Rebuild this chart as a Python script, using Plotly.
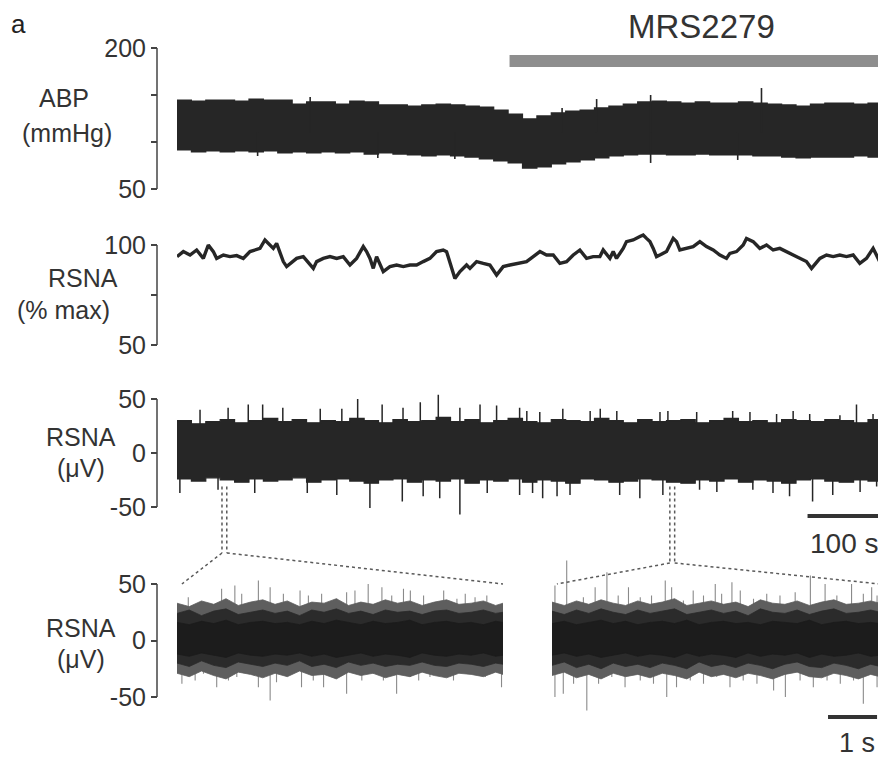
import plotly.graph_objects as go

# page is offset by the browser's default 8 px body margin
OFF = 8
W, H = 886 - OFF, 757 - OFF

# ---------------- data ----------------
# ABP envelope (mmHg), sampled every 20 s
abp_t = list(range(0, 1000, 20))
abp_sys = [144.7, 143.6, 144.7, 144.7, 143.6, 145.7, 144.7, 144.7, 140.4, 142.6,
           142.6, 140.4, 143.6, 142.6, 139.4, 139.4, 138.3, 139.4, 140.4, 139.4,
           138.3, 137.2, 134.0, 129.8, 124.5, 127.7, 130.9, 133.0, 134.0, 136.2,
           138.3, 140.4, 142.6, 143.6, 142.6, 141.5, 142.6, 141.5, 141.5, 142.6,
           141.5, 140.4, 139.4, 138.3, 140.4, 141.5, 141.5, 140.4, 141.5, 138.3]
abp_dia = [91.5, 89.4, 90.4, 89.4, 90.4, 89.4, 90.4, 88.3, 89.4, 88.3,
           89.4, 88.3, 89.4, 87.2, 88.3, 87.2, 86.2, 85.1, 86.2, 85.1,
           84.0, 81.9, 79.8, 77.7, 72.3, 73.4, 76.6, 78.7, 80.9, 83.0,
           85.1, 86.2, 87.2, 87.2, 86.2, 86.2, 87.2, 86.2, 86.2, 86.2,
           85.1, 85.1, 84.0, 83.0, 84.0, 84.0, 84.0, 85.1, 84.0, 84.0]
abp_spike_t = [185, 535, 583, 658, 812]
abp_spike_v = [147.9, 136.2, 145.7, 150.0, 157.4]
abp_notch_t = [112, 279, 386, 658, 779]
abp_notch_v = [85.1, 83.0, 81.9, 77.7, 80.9]

# integrated RSNA (% max)
rsna_pct_t = [0, 8.8, 18.1, 27.3, 36.6, 43.5, 50.5, 55.1, 64.4, 73.6,
              82.9, 92.1, 101.4, 110.6, 115.3, 122.2, 129.2, 133.8, 138.4, 143.1,
              147.7, 152.3, 161.6, 166.2, 175.5, 184.7, 189.4, 194.0, 203.2, 212.5,
              221.8, 231.0, 240.3, 249.5, 258.8, 263.4, 268.1, 272.7, 277.3, 286.6,
              295.8, 305.1, 314.4, 323.6, 332.9, 342.1, 351.4, 360.6, 369.9, 374.5,
              379.2, 386.1, 393.1, 402.3, 407.0, 416.2, 425.5, 434.7, 444.0, 453.2,
              462.5, 471.8,
              476.4, 485.6, 494.9, 504.2, 513.4, 522.7, 531.9, 541.2, 550.5, 559.7,
              569.0, 578.2, 587.5, 592.1, 601.4, 606.0, 610.6, 619.9, 624.5, 633.8,
              643.1, 647.7, 652.3, 657.0, 661.6, 666.2, 670.8, 680.1, 689.4, 694.0,
              698.6, 707.9, 717.1, 726.4, 735.6, 744.9, 754.2, 763.4, 768.1, 777.3,
              786.6, 791.2, 800.5, 805.1, 809.7, 819.0, 828.2, 837.5, 846.8, 856.0,
              865.3, 874.5, 881.5, 888.4, 893.1, 902.3, 911.6, 920.8, 930.1, 939.4,
              948.6, 957.9, 967.1, 974.1, 978.7]
rsna_pct = [94.2, 96.7, 95.0, 97.5, 93.3, 100.0, 96.7, 93.3, 95.0, 94.2,
            94.7, 93.3, 96.7, 97.5, 98.3, 102.5, 100.0, 98.3, 100.8, 96.7,
            91.7, 89.2, 91.7, 93.3, 94.2, 90.0, 88.3, 91.7, 93.3, 94.2,
            93.3, 94.2, 90.0, 93.3, 99.2, 96.7, 93.3, 88.3, 94.2, 86.7,
            89.2, 90.0, 89.2, 90.0, 90.0, 91.7, 93.3, 96.7, 97.5, 96.7,
            91.7, 83.3, 86.7, 90.0, 88.3, 91.7, 90.8, 90.0, 85.0, 89.2,
            90.0, 90.8,
            90.8, 91.7, 94.2, 96.7, 95.0, 95.0, 90.8, 91.7, 95.0, 97.5,
            93.3, 94.2, 94.2, 97.5, 93.3, 96.7, 93.3, 98.3, 101.7, 102.5,
            104.2, 105.0, 103.3, 101.7, 98.3, 94.2, 95.0, 96.7, 103.3, 101.7,
            97.5, 98.3, 99.2, 101.7, 99.2, 97.5, 95.0, 93.3, 95.8, 96.7,
            100.0, 103.3, 101.7, 100.0, 98.3, 100.0, 97.5, 98.3, 96.7, 95.0,
            93.3, 91.7, 88.3, 91.7, 93.3, 95.0, 94.2, 95.0, 94.2, 95.0,
            90.8, 93.3, 98.3, 93.3, 90.0]

# raw RSNA (uV): envelope every 20 s + large deflections
raw_t = list(range(0, 1000, 20))
raw_up = [30, 27, 29, 31, 28, 30, 32, 29, 31, 28, 30, 29, 32, 30, 28, 31, 29, 30, 33, 29,
          31, 28, 30, 32, 29, 28, 31, 30, 29, 32, 30, 28, 31, 29, 30, 31, 28, 30, 32, 29,
          30, 28, 31, 30, 29, 31, 30, 28, 31, 30]
raw_lo = [-24, -26, -23, -25, -27, -24, -26, -25, -23, -27, -25, -24, -26, -28, -25, -24,
          -27, -25, -26, -24, -28, -25, -26, -24, -27, -25, -26, -28, -24, -25, -27, -26,
          -24, -25, -27, -28, -25, -26, -24, -27, -25, -26, -28, -25, -24, -26, -27, -25,
          -26, -25]
raw_pk_up_t = [32, 71, 99, 119, 147, 199, 229, 251, 285, 314, 338, 363, 393, 421, 444, 476,
               486, 504, 536, 574, 588, 611, 671, 682, 722, 772, 796, 833, 856, 879, 921, 944, 967]
raw_pk_up_v = [40, 42, 45, 45, 42, 41, 41, 50, 45, 42, 47, 54, 42, 45, 44, 42,
               39, 38, 41, 39, 41, 39, 38, 39, 38, 39, 38, 36, 39, 36, 35, 45, 36]
raw_pk_dn_t = [4, 57, 108, 181, 222, 268, 313, 342, 365, 393, 431, 476,
               494, 508, 528, 546, 615, 643, 675, 726, 750, 800, 828, 851, 883, 911, 949, 972]
raw_pk_dn_v = [-37, -34, -37, -37, -39, -51, -45, -40, -42, -57, -37, -39,
               -37, -42, -40, -39, -39, -42, -39, -34, -36, -34, -37, -40, -45, -39, -36, -31]

# expanded windows (s) on the raw RSNA record
win_start = [62.5, 684.7]
win_len = [6.65, 6.69]

# expanded raw RSNA, left window
zl_t = [0, 0.25, 0.5, 0.75, 1, 1.25, 1.5, 1.75, 2, 2.25, 2.5, 2.75, 3, 3.25,
        3.5, 3.75, 4, 4.25, 4.5, 4.75, 5, 5.25, 5.5, 5.75, 6, 6.25, 6.5, 6.65]
zl_fr_up = [33, 30, 35, 32, 37, 31, 34, 36, 32, 35, 30, 34, 33, 37, 31, 34, 32, 36, 33, 35,
            31, 34, 36, 32, 33, 35, 31, 33]
zl_fr_lo = [-29, -32, -27, -31, -34, -28, -30, -33, -29, -32, -27, -31, -30, -34, -28, -31,
            -29, -33, -30, -32, -28, -31, -33, -29, -30, -32, -28, -30]
zl_out_up = [24, 27, 22, 26, 28, 23, 25, 27, 24, 26, 22, 27, 25, 28, 24, 26, 23, 27, 25, 26,
             23, 26, 27, 24, 25, 27, 24, 25]
zl_out_lo = [-20, -23, -18, -22, -24, -19, -21, -23, -20, -22, -18, -23, -21, -24, -19, -22,
             -20, -23, -21, -22, -19, -22, -23, -20, -21, -23, -20, -21]
zl_core_up = [16, 14, 17, 15, 18, 14, 16, 17, 15, 16, 14, 17, 15, 18, 16, 14, 17, 15, 16, 18,
              14, 16, 17, 15, 16, 14, 17, 16]
zl_core_lo = [-12, -14, -11, -13, -15, -11, -13, -14, -12, -13, -11, -14, -12, -15, -13, -11,
              -14, -12, -13, -15, -11, -13, -14, -12, -13, -11, -14, -13]
zl_pk_up_t = [0.23, 0.57, 0.91, 1.18, 1.32, 1.66, 1.90, 2.17, 2.51, 2.68, 2.95, 3.26, 3.46,
              3.63, 3.90, 4.18, 4.38, 4.62, 4.76, 5.03, 5.44, 5.71, 5.88, 6.08, 6.32, 6.63]
zl_pk_up_v = [38.3, 33.9, 45.7, 48.7, 41.3, 53.1, 47.2, 41.3, 44.2, 39.8, 41.3, 36.9, 42.8,
              44.2, 50.1, 47.2, 39.8, 45.7, 44.2, 39.8, 44.2, 36.9, 41.3, 38.3, 39.8, 26.5]
zl_pk_dn_t = [0.10, 0.37, 0.54, 0.81, 1.05, 1.22, 1.66, 1.90, 2.03, 2.27, 2.54, 2.78, 2.99,
              3.26, 3.46, 3.77, 4.01, 4.21, 4.48, 4.76, 4.93, 5.16, 5.30, 5.64, 5.98, 6.29, 6.62]
zl_pk_dn_v = [-38.3, -35.4, -29.5, -41.3, -35.4, -32.4, -41.3, -53.1, -36.9, -29.5, -41.3,
              -35.4, -41.3, -32.4, -47.2, -35.4, -29.5, -35.4, -47.2, -32.4, -35.4, -32.4,
              -29.5, -35.4, -29.5, -32.4, -41.3]

# expanded raw RSNA, right window
zr_t = [0, 0.25, 0.5, 0.75, 1, 1.25, 1.5, 1.75, 2, 2.25, 2.5, 2.75, 3, 3.25,
        3.5, 3.75, 4, 4.25, 4.5, 4.75, 5, 5.25, 5.5, 5.75, 6, 6.25, 6.5, 6.69]
zr_fr_up = [34, 31, 35, 32, 36, 33, 31, 35, 32, 34, 37, 31, 33, 35, 32, 34, 30, 36, 33, 32,
            35, 31, 34, 36, 32, 33, 35, 33]
zr_fr_lo = [-31, -28, -33, -30, -34, -29, -32, -30, -33, -29, -31, -34, -28, -32, -30, -33,
            -29, -31, -34, -30, -28, -32, -33, -29, -31, -34, -30, -32]
zr_out_up = [26, 23, 27, 24, 28, 25, 23, 27, 24, 26, 28, 23, 25, 27, 24, 26, 22, 28, 25, 24,
             27, 23, 26, 28, 24, 25, 27, 25]
zr_out_lo = [-22, -19, -24, -21, -25, -20, -23, -21, -24, -20, -22, -25, -19, -23, -21, -24,
             -20, -22, -25, -21, -19, -23, -24, -20, -22, -25, -21, -23]
zr_core_up = [15, 17, 14, 16, 18, 15, 17, 14, 16, 17, 15, 18, 14, 16, 17, 15, 16, 14, 17, 16,
              15, 18, 14, 16, 17, 15, 16, 15]
zr_core_lo = [-13, -11, -14, -12, -15, -13, -11, -14, -12, -13, -15, -11, -14, -12, -13, -15,
              -11, -14, -12, -13, -11, -15, -12, -14, -13, -11, -14, -13]
zr_pk_up_t = [0.06, 0.30, 0.64, 0.88, 1.12, 1.35, 1.56, 1.80, 2.03, 2.31, 2.44, 2.68, 2.88,
              3.09, 3.33, 3.46, 3.67, 3.84, 4.11, 4.38, 4.65, 4.96, 5.27, 5.57, 5.81, 6.11,
              6.35, 6.52, 6.63]
zr_pk_up_v = [48.7, 70.8, 38.3, 47.2, 60.5, 39.8, 47.2, 38.3, 39.8, 53.1, 47.2, 35.4, 44.2,
              39.8, 50.1, 41.3, 51.6, 44.2, 36.9, 41.3, 39.8, 42.8, 57.5, 50.1, 39.8, 50.1,
              41.3, 47.2, 39.8]
zr_pk_dn_t = [0.06, 0.23, 0.44, 0.71, 0.95, 1.22, 1.49, 1.80, 2.07, 2.34, 2.54, 2.82, 3.09,
              3.36, 3.63, 3.90, 4.18, 4.52, 4.76, 5.06, 5.33, 5.61, 5.88, 6.15, 6.35, 6.63]
zr_pk_dn_v = [-50.1, -47.2, -38.3, -61.9, -38.3, -32.4, -41.3, -35.4, -38.3, -50.1, -41.3,
              -35.4, -38.3, -32.4, -41.3, -35.4, -38.3, -44.2, -50.1, -35.4, -41.3, -35.4,
              -38.3, -35.4, -56.0, -41.3]

drug_label = "MRS2279"
drug_start, record_end = 462, 985
scale_long = (876, 976)     # 100 s
scale_short = (5.63, 6.63)  # 1 s

# ---------------- layout helpers (page pixel -> paper) ----------------
def py(p):
    return 1 - (p - OFF) / H

def px_(p):
    return (p - OFF) / W

def ydom(va, pa, vb, pb, lo, hi):
    s = (pb - pa) / (vb - va)
    return [py(pa + (lo - va) * s), py(pa + (hi - va) * s)]

def amap(dom, rng, v):
    return dom[0] + (v - rng[0]) / (rng[1] - rng[0]) * (dom[1] - dom[0])

INK = "#262626"
TXT = "#333333"
AX = "#444444"
FONT = "Liberation Sans, Arial, sans-serif"

xd_top, xr_top = [px_(177), px_(886)], [0, record_end]
xd_l, xr_l = [px_(177), px_(503)], [0, win_len[0]]
xd_r, xr_r = [px_(552), px_(880)], [0, win_len[1]]

yr1 = [50, 200]; yd1 = ydom(200, 48, 50, 189, *yr1)
yr2 = [48, 108]; yd2 = ydom(100, 245, 50, 345, *yr2)
yr3 = [-60, 58]; yd3 = ydom(50, 399, -50, 507, *yr3)
yr4 = [-66, 76]; yd4 = ydom(50, 584, -50, 697, *yr4)

fig = go.Figure()

def band(x, lo, hi, xa, ya, color, shape="linear", lw=0.8):
    fig.add_trace(go.Scatter(x=x, y=lo, xaxis=xa, yaxis=ya, mode="lines",
                             line=dict(width=lw, color=color, shape=shape), hoverinfo="skip"))
    fig.add_trace(go.Scatter(x=x, y=hi, xaxis=xa, yaxis=ya, mode="lines", fill="tonexty",
                             fillcolor=color, line=dict(width=lw, color=color, shape=shape),
                             hoverinfo="skip"))

def sticks(ts, base, vs, xa, ya, color, width):
    xs, ys = [], []
    for t, v in zip(ts, vs):
        xs += [t, t, None]
        ys += [base, v, None]
    fig.add_trace(go.Scatter(x=xs, y=ys, xaxis=xa, yaxis=ya, mode="lines",
                             line=dict(width=width, color=color), hoverinfo="skip"))

# ABP
band(abp_t[:-1] + [980], abp_dia, abp_sys, "x", "y", INK, shape="hv", lw=1.2)
sticks(abp_spike_t, 110, abp_spike_v, "x", "y", INK, 1.6)
sticks(abp_notch_t, 110, abp_notch_v, "x", "y", INK, 1.6)

# RSNA %max
fig.add_trace(go.Scatter(x=rsna_pct_t, y=rsna_pct, xaxis="x", yaxis="y2", mode="lines",
                         line=dict(width=3.4, color=INK), hoverinfo="skip"))

# raw RSNA
sticks(raw_pk_up_t, 0, raw_pk_up_v, "x", "y3", INK, 1.5)
sticks(raw_pk_dn_t, 0, raw_pk_dn_v, "x", "y3", INK, 1.5)
band(raw_t[:-1] + [980], raw_lo, raw_up, "x", "y3", INK, shape="hv", lw=1.2)

# expanded traces
for xa, ya, t, fup, flo, oup, olo, cup, clo, put, puv, pdt, pdv in [
        ("x2", "y4", zl_t, zl_fr_up, zl_fr_lo, zl_out_up, zl_out_lo, zl_core_up, zl_core_lo,
         zl_pk_up_t, zl_pk_up_v, zl_pk_dn_t, zl_pk_dn_v),
        ("x3", "y5", zr_t, zr_fr_up, zr_fr_lo, zr_out_up, zr_out_lo, zr_core_up, zr_core_lo,
         zr_pk_up_t, zr_pk_up_v, zr_pk_dn_t, zr_pk_dn_v)]:
    sticks(put, 0, puv, xa, ya, "#8a8a8a", 1.1)
    sticks(pdt, 0, pdv, xa, ya, "#8a8a8a", 1.1)
    band(t, flo, fup, xa, ya, "#5e5e5e")
    band(t, olo, oup, xa, ya, "#2b2b2b")
    band(t, clo, cup, xa, ya, "#1c1c1c")

shapes = []
annotations = []

# y axis lines (bracket between first and last tick)
for yref, lo, hi in [("y", 50, 200), ("y2", 50, 100), ("y3", -50, 50), ("y4", -50, 50)]:
    shapes.append(dict(type="line", xref="paper", yref=yref, x0=px_(157), x1=px_(157),
                       y0=lo, y1=hi, line=dict(color=AX, width=1.5)))

# drug bar
shapes.append(dict(type="rect", xref="x", yref="paper", x0=drug_start, x1=record_end,
                   y0=py(67), y1=py(55), fillcolor="#8e8e8e", line=dict(width=0)))
annotations.append(dict(text=drug_label, xref="paper", yref="paper", x=px_(701), y=py(27),
                        showarrow=False, font=dict(size=33, color=TXT, family=FONT),
                        xanchor="center", yanchor="middle"))

# scale bars
shapes.append(dict(type="line", xref="x", yref="paper", x0=scale_long[0], x1=scale_long[1],
                   y0=py(516), y1=py(516), line=dict(color=TXT, width=4)))
annotations.append(dict(text="100 s", xref="x", yref="paper", x=scale_long[1] + 2, y=py(543),
                        showarrow=False, xanchor="right", yanchor="middle",
                        font=dict(size=28, color=TXT, family=FONT)))
shapes.append(dict(type="line", xref="x3", yref="paper", x0=scale_short[0], x1=scale_short[1],
                   y0=py(717), y1=py(717), line=dict(color=TXT, width=4)))
annotations.append(dict(text="1 s", xref="x3", yref="paper", x=scale_short[1], y=py(743),
                        showarrow=False, xanchor="right", yanchor="middle",
                        font=dict(size=27, color=TXT, family=FONT)))

# connectors from the raw record to the expanded windows
bends = [py(553), py(563)]
targets = [(xd_l, xr_l), (xd_r, xr_r)]
y_from = amap(yd3, yr3, -31)
y_to = amap(yd4, yr4, 50)
dot = dict(color="#5a5a5a", width=1.5, dash="dot")
for ws, wl, yb, (dd, rr) in zip(win_start, win_len, bends, targets):
    xa = amap(xd_top, xr_top, ws)
    xb = amap(xd_top, xr_top, ws + wl)
    shapes.append(dict(type="line", xref="paper", yref="paper", x0=xa, x1=xa, y0=y_from, y1=yb, line=dot))
    shapes.append(dict(type="line", xref="paper", yref="paper", x0=xb, x1=xb, y0=y_from, y1=yb, line=dot))
    shapes.append(dict(type="line", xref="paper", yref="paper", x0=xa, x1=amap(dd, rr, rr[0] + 0.1),
                       y0=yb, y1=y_to, line=dot))
    shapes.append(dict(type="line", xref="paper", yref="paper", x0=xb, x1=amap(dd, rr, rr[1]),
                       y0=yb, y1=y_to, line=dot))

# axis titles
for text, x, y in [("ABP", 64, 98), ("(mmHg)", 67, 133),
                   ("RSNA", 83, 278), ("(% max)", 63, 310),
                   ("RSNA", 81, 437), ("(μV)", 81, 468),
                   ("RSNA", 81, 628), ("(μV)", 81, 659)]:
    annotations.append(dict(text=text, xref="paper", yref="paper", x=px_(x), y=py(y),
                            showarrow=False, xanchor="center", yanchor="middle",
                            font=dict(size=25, color=TXT, family=FONT)))
annotations.append(dict(text="a", xref="paper", yref="paper", x=px_(10), y=1,
                        showarrow=False, xanchor="left", yanchor="top", borderpad=0,
                        font=dict(size=26, color="#222222", family=FONT)))

def yax(dom, rng, tv, tt, visible=True):
    return dict(domain=dom, range=rng, anchor="free", position=px_(157), side="left",
                tickvals=tv, ticktext=tt, ticks="outside", ticklen=6, tickwidth=1.5,
                tickcolor=AX, showline=False, showgrid=False, zeroline=False,
                tickfont=dict(size=25, color=TXT, family=FONT), visible=visible,
                automargin=False, fixedrange=True)

hid = dict(visible=False, showgrid=False, zeroline=False, fixedrange=True, automargin=False)
fig.update_layout(
    width=W, height=H, margin=dict(l=0, r=0, t=0, b=0, pad=0, autoexpand=False),
    paper_bgcolor="white", plot_bgcolor="rgba(0,0,0,0)", showlegend=False,
    font=dict(family=FONT, color=TXT),
    xaxis=dict(domain=xd_top, range=xr_top, anchor="y", **hid),
    xaxis2=dict(domain=xd_l, range=xr_l, anchor="y4", **hid),
    xaxis3=dict(domain=xd_r, range=xr_r, anchor="y5", **hid),
    yaxis=yax(yd1, yr1, [50, 100, 150, 200], ["50", "", "", "200"]),
    yaxis2=yax(yd2, yr2, [50, 75, 100], ["50", "", "100"]),
    yaxis3=yax(yd3, yr3, [-50, 0, 50], ["-50", "0", "50"]),
    yaxis4=yax(yd4, yr4, [-50, 0, 50], ["-50", "0", "50"]),
    yaxis5=dict(domain=yd4, range=yr4, anchor="x3", **hid),
    shapes=shapes, annotations=annotations,
)

fig.write_html("out.html")
